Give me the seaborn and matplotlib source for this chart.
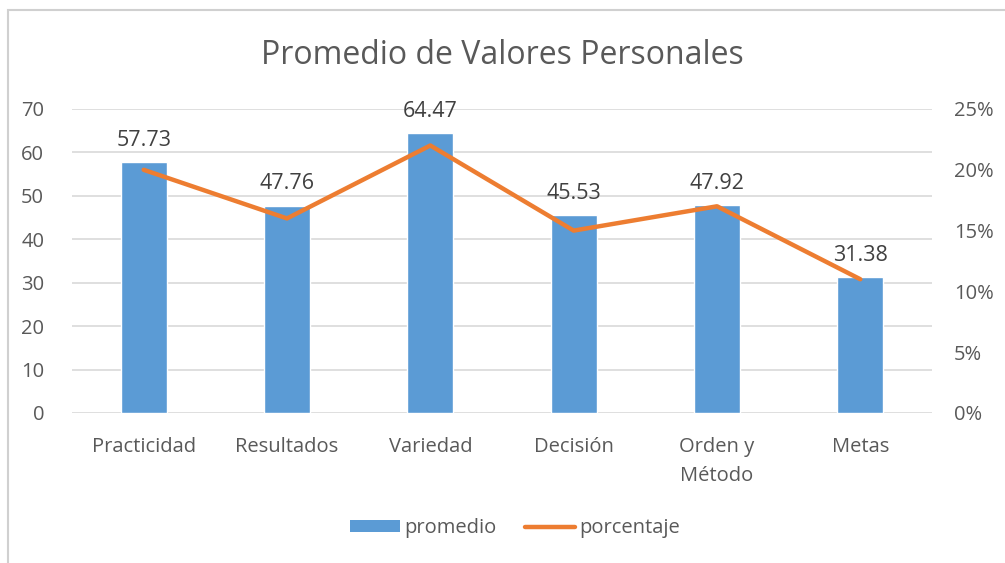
import numpy as np
import pandas as pd
import seaborn as sns
import matplotlib.pyplot as plt
from matplotlib.patches import Patch, Rectangle
from matplotlib.lines import Line2D
from matplotlib.ticker import PercentFormatter

# data
categorias = ["Practicidad", "Resultados", "Variedad", "Decisión", "Orden y\nMétodo", "Metas"]
promedio = [57.73, 47.76, 64.47, 45.53, 47.92, 31.38]
porcentaje = [0.20, 0.16, 0.22, 0.15, 0.17, 0.11]

df = pd.DataFrame({"categoria": categorias, "promedio": promedio, "porcentaje": porcentaje})

sns.set_theme(style="white")
plt.rcParams["font.family"] = ["Open Sans", "DejaVu Sans"]

gris = "#595959"
azul = "#5B9BD5"
naranja = "#ED7D31"

fig = plt.figure(figsize=(10.05, 5.63), dpi=100)
ax = fig.add_axes([72 / 1005, 1 - 413 / 563, 860 / 1005, 304 / 563])

sns.barplot(data=df, x="categoria", y="promedio", color=azul, width=0.32,
            saturation=1, ax=ax, zorder=2)
ax.set_ylim(0, 70)
ax.set_yticks(range(0, 71, 10))
ax.set_xlim(-0.5, 5.5)
ax.yaxis.grid(True, color="#D9D9D9", linewidth=1.2, zorder=0)
ax.set_axisbelow(True)
for s in ax.spines.values():
    s.set_visible(False)
ax.tick_params(axis="both", length=0, labelsize=14.5, labelcolor=gris)
ax.tick_params(axis="y", pad=20)
ax.tick_params(axis="x", pad=17)
for t in ax.get_xticklabels():
    t.set_linespacing(1.6)
ax.set_xlabel("")
ax.set_ylabel("")

for i, v in enumerate(promedio):
    ax.annotate(f"{v:.2f}", (i, v), xytext=(0, 8), textcoords="offset points",
                ha="center", va="bottom", fontsize=15.5, color="#404040")

ax2 = ax.twinx()
sns.lineplot(x=np.arange(len(categorias)), y=porcentaje, color=naranja,
             linewidth=3.2, ax=ax2, zorder=3)
ax2.set_ylim(0, 0.25)
ax2.set_yticks(np.arange(0, 0.26, 0.05))
ax2.yaxis.set_major_formatter(PercentFormatter(1.0, decimals=0))
ax2.tick_params(axis="y", length=0, labelsize=14.5, labelcolor=gris, pad=16)
for s in ax2.spines.values():
    s.set_visible(False)
ax2.set_ylabel("")

fig.text(0.5, 1 - 55 / 563, "Promedio de Valores Personales", ha="center", va="center",
         fontsize=23, color=gris)

handles = [Patch(facecolor=azul, edgecolor="none", label="promedio"),
           Line2D([0], [0], color=naranja, linewidth=3.2, label="porcentaje")]
fig.legend(handles=handles, loc="center", bbox_to_anchor=(515 / 1005, 1 - 528 / 563),
           ncol=2, frameon=False, fontsize=14.5, labelcolor=gris,
           handlelength=2.5, handleheight=0.5, handletextpad=0.2, columnspacing=1.4)

# chart frame (cropped at right and bottom)
fig.patches.append(Rectangle((8 / 1005, -0.1), 1.2, 1 - 10 / 563 + 0.1,
                             transform=fig.transFigure, fill=False,
                             edgecolor="#D0D0D0", linewidth=1.5))

fig.savefig("out.png", dpi=100)
